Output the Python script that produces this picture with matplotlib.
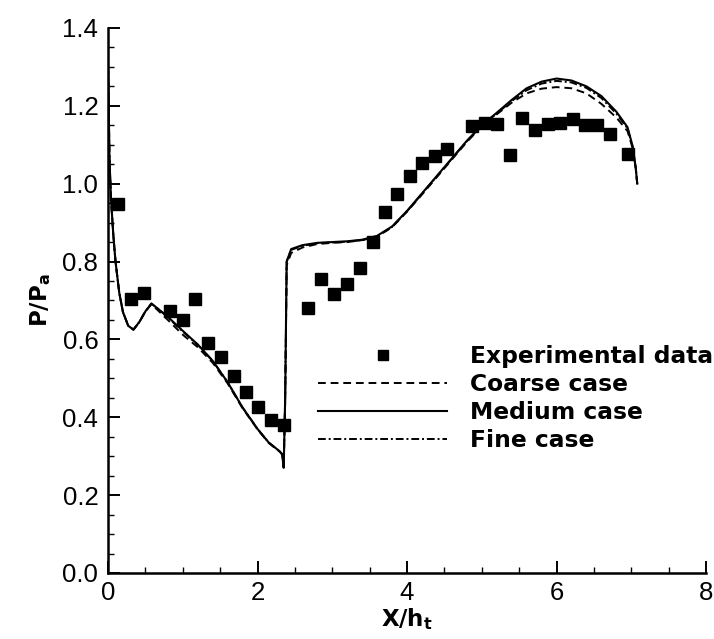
import matplotlib
matplotlib.use('Agg')
import matplotlib.pyplot as plt
from matplotlib.ticker import MultipleLocator

# --- DADOS ---
# Pressão na parede (medidas experimentais)
x_exp = [0.13, 0.31, 0.48, 0.83, 1.00, 1.17, 1.34, 1.51, 1.68, 1.84, 2.01, 2.18, 2.36,
         2.68, 2.85, 3.02, 3.20, 3.37, 3.55, 3.71, 3.87, 4.04, 4.20, 4.37, 4.54,
         4.87, 5.04, 5.20, 5.38, 5.54, 5.71, 5.89, 6.05, 6.22, 6.38, 6.54, 6.71, 6.95]
p_exp = [0.948, 0.705, 0.720, 0.673, 0.649, 0.704, 0.592, 0.554, 0.506, 0.465, 0.426, 0.393, 0.379,
         0.681, 0.755, 0.717, 0.742, 0.783, 0.850, 0.927, 0.974, 1.020, 1.053, 1.071, 1.089,
         1.148, 1.156, 1.153, 1.074, 1.169, 1.138, 1.153, 1.156, 1.166, 1.151, 1.151, 1.128, 1.076]

# Malhas CFD (mesma abscissa para as três)
x_cfd = [0.00, 0.01, 0.02, 0.04, 0.07, 0.10, 0.15, 0.20, 0.27, 0.34, 0.42, 0.50, 0.58, 0.66,
         0.80, 1.00, 1.20, 1.40, 1.60, 1.80, 2.00, 2.15, 2.30, 2.33, 2.35, 2.37, 2.39, 2.45,
         2.60, 2.80, 3.00, 3.20, 3.40, 3.60, 3.80, 4.00, 4.20, 4.40, 4.60, 4.80, 5.00, 5.20,
         5.40, 5.60, 5.80, 6.00, 6.20, 6.40, 6.60, 6.80, 6.95, 7.02, 7.06, 7.08]
p_medium = [1.30, 1.18, 1.06, 0.96, 0.87, 0.80, 0.72, 0.67, 0.635, 0.625, 0.645, 0.672, 0.692, 0.680,
            0.658, 0.622, 0.587, 0.545, 0.490, 0.425, 0.370, 0.335, 0.312, 0.305, 0.270, 0.450, 0.800, 0.832,
            0.842, 0.848, 0.850, 0.852, 0.856, 0.866, 0.890, 0.930, 0.975, 1.020, 1.065, 1.110, 1.150, 1.182,
            1.215, 1.245, 1.262, 1.270, 1.265, 1.250, 1.225, 1.185, 1.145, 1.095, 1.040, 1.000]
p_coarse = [1.30, 1.18, 1.06, 0.96, 0.87, 0.80, 0.72, 0.67, 0.635, 0.625, 0.645, 0.672, 0.690, 0.676,
            0.650, 0.612, 0.580, 0.540, 0.487, 0.423, 0.369, 0.334, 0.311, 0.304, 0.272, 0.440, 0.790, 0.822,
            0.836, 0.845, 0.848, 0.850, 0.855, 0.864, 0.888, 0.928, 0.972, 1.017, 1.062, 1.107, 1.147, 1.178,
            1.208, 1.232, 1.244, 1.248, 1.245, 1.232, 1.205, 1.170, 1.135, 1.090, 1.040, 1.000]
p_fine = [1.30, 1.18, 1.06, 0.96, 0.87, 0.80, 0.72, 0.67, 0.635, 0.625, 0.645, 0.672, 0.692, 0.680,
          0.657, 0.620, 0.586, 0.545, 0.490, 0.425, 0.370, 0.335, 0.312, 0.305, 0.272, 0.450, 0.800, 0.830,
          0.840, 0.847, 0.849, 0.851, 0.855, 0.865, 0.889, 0.929, 0.974, 1.019, 1.064, 1.109, 1.149, 1.180,
          1.212, 1.240, 1.257, 1.264, 1.260, 1.246, 1.220, 1.180, 1.142, 1.093, 1.040, 1.000]

nomes = ['Experimental data', 'Coarse case', 'Medium case', 'Fine case']

# --- FIGURA ---
fig = plt.figure(figsize=(7.14, 6.39), dpi=100)
ax = fig.add_axes([0.1513, 0.1033, 0.8375, 0.853])

h_exp, = ax.plot(x_exp, p_exp, linestyle='none', marker='s', markersize=8.6,
                 color='black', zorder=4)
h_coarse, = ax.plot(x_cfd, p_coarse, color='black', lw=1.4, linestyle=(0, (4, 2.5)))
h_medium, = ax.plot(x_cfd, p_medium, color='black', lw=1.5, linestyle='-')
h_fine, = ax.plot(x_cfd, p_fine, color='black', lw=1.4, linestyle=(0, (4, 1.5, 1, 1.5)))

ax.set_xlim(0, 8)
ax.set_ylim(0, 1.4)
ax.xaxis.set_major_locator(MultipleLocator(2))
ax.xaxis.set_minor_locator(MultipleLocator(0.5))
ax.yaxis.set_major_locator(MultipleLocator(0.2))
ax.yaxis.set_minor_locator(MultipleLocator(0.05))
ax.yaxis.set_major_formatter(matplotlib.ticker.FormatStrFormatter('%.1f'))

for lado in ['top', 'right']:
    ax.spines[lado].set_visible(False)
for lado in ['left', 'bottom']:
    ax.spines[lado].set_linewidth(1.8)

ax.tick_params(which='major', direction='in', length=8.6, width=1.4, pad=7)
ax.tick_params(axis='x', which='major', pad=6)
ax.tick_params(which='minor', direction='in', length=4.3, width=1.0)
for rot in ax.get_xticklabels() + ax.get_yticklabels():
    rot.set_family('Liberation Sans')
    rot.set_fontsize(18.5)

ax.set_xlabel(r'X/h$_\mathbf{t}$', fontsize=16.5, fontweight='bold')
ax.set_ylabel(r'P/P$_\mathbf{a}$', fontsize=16.5, fontweight='bold')
ax.xaxis.set_label_coords(0.5, -0.06)
ax.yaxis.set_label_coords(-0.092, 0.5)

leg = ax.legend([h_exp, h_coarse, h_medium, h_fine], nomes,
                loc='upper left', bbox_to_anchor=(0.351, 0.418),
                frameon=False, borderpad=0, borderaxespad=0,
                handlelength=5.55, handletextpad=0.96, labelspacing=0.21,
                markerscale=0.8, prop={'size': 16.8, 'weight': 'bold'})

fig.savefig('out.png', dpi=100)
